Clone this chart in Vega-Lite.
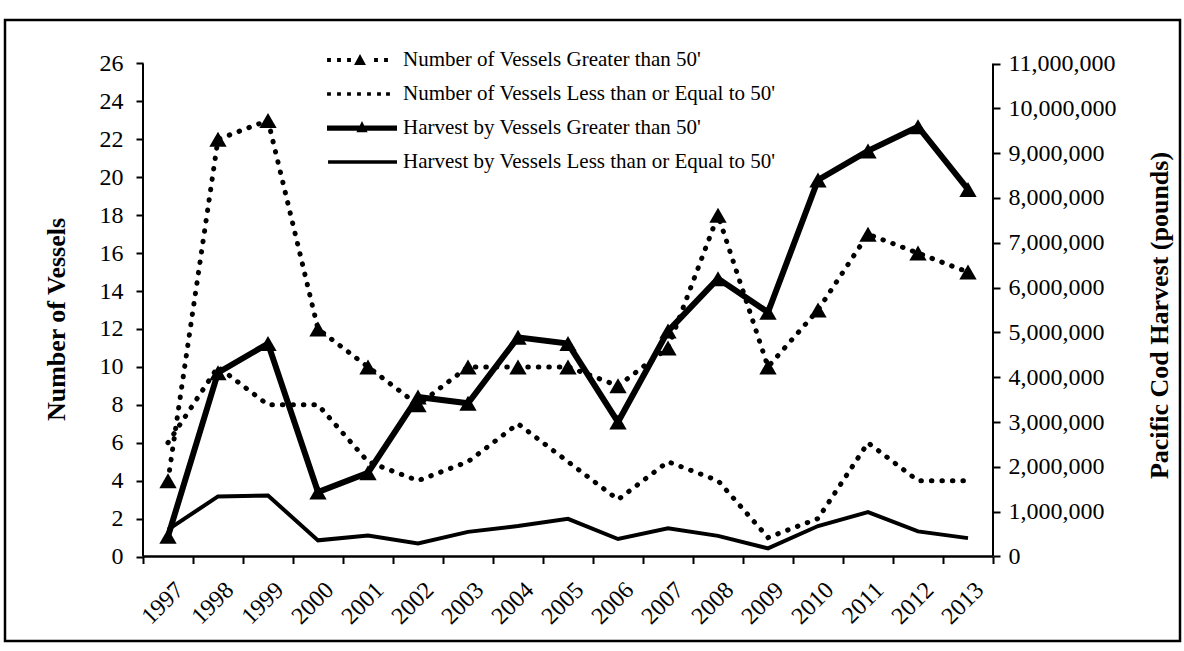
{
  "$schema": "https://vega.github.io/schema/vega-lite/v6.json",
  "width": 1175,
  "height": 621,
  "autosize": {"type": "none"},
  "padding": {"left": 5, "top": 20, "right": 4, "bottom": 10},
  "background": "white",
  "data": {
    "values": [
      {"year": 1997, "vgt": 4, "vle": 6, "hgt": 450000, "hle": 600000},
      {"year": 1998, "vgt": 22, "vle": 10, "hgt": 4100000, "hle": 1340000},
      {"year": 1999, "vgt": 23, "vle": 8, "hgt": 4750000, "hle": 1360000},
      {"year": 2000, "vgt": 12, "vle": 8, "hgt": 1440000, "hle": 360000},
      {"year": 2001, "vgt": 10, "vle": 5, "hgt": 1870000, "hle": 470000},
      {"year": 2002, "vgt": 8, "vle": 4, "hgt": 3560000, "hle": 290000},
      {"year": 2003, "vgt": 10, "vle": 5, "hgt": 3420000, "hle": 550000},
      {"year": 2004, "vgt": 10, "vle": 7, "hgt": 4890000, "hle": 680000},
      {"year": 2005, "vgt": 10, "vle": 5, "hgt": 4750000, "hle": 840000},
      {"year": 2006, "vgt": 9, "vle": 3, "hgt": 3000000, "hle": 390000},
      {"year": 2007, "vgt": 11, "vle": 5, "hgt": 5030000, "hle": 630000},
      {"year": 2008, "vgt": 18, "vle": 4, "hgt": 6200000, "hle": 460000},
      {"year": 2009, "vgt": 10, "vle": 1, "hgt": 5450000, "hle": 180000},
      {"year": 2010, "vgt": 13, "vle": 2, "hgt": 8400000, "hle": 680000},
      {"year": 2011, "vgt": 17, "vle": 6, "hgt": 9050000, "hle": 990000},
      {"year": 2012, "vgt": 16, "vle": 4, "hgt": 9590000, "hle": 560000},
      {"year": 2013, "vgt": 15, "vle": 4, "hgt": 8190000, "hle": 410000}
    ]
  },
  "encoding": {
    "x": {
      "field": "year",
      "type": "quantitative",
      "scale": {"domain": [1993.74, 2017.24], "nice": false, "zero": false},
      "axis": {
        "title": null,
        "offset": -84.5,
        "domain": false,
        "values": [1996.5, 1997.5, 1998.5, 1999.5, 2000.5, 2001.5, 2002.5, 2003.5, 2004.5, 2005.5, 2006.5, 2007.5, 2008.5, 2009.5, 2010.5, 2011.5, 2012.5, 2013.5],
        "labelExpr": "datum.value < 2013 ? format(datum.value + 0.5, 'd') : ''",
        "labelOverlap": false,
        "labelAngle": -45,
        "labelFont": "Liberation Serif",
        "labelFontSize": 24,
        "labelColor": "black",
        "labelPadding": 14,
        "labelOffset": 28,
        "tickSize": 7,
        "tickWidth": 2,
        "tickColor": "black",
        "grid": false
      }
    }
  },
  "layer": [
    {
      "encoding": {
        "y": {
          "field": "vle",
          "type": "quantitative",
          "title": "Number of Vessels",
          "scale": {"domain": [-4.456, 28.294], "nice": false, "zero": false},
          "axis": {
            "orient": "left",
            "offset": -138,
            "domain": false,
            "values": [0, 2, 4, 6, 8, 10, 12, 14, 16, 18, 20, 22, 24, 26],
            "labelOverlap": false,
            "grid": false,
            "tickColor": "black",
            "tickWidth": 2,
            "tickSize": 7,
            "labelPadding": 13,
            "labelFont": "Liberation Serif",
            "labelFontSize": 24,
            "labelColor": "black",
            "title": "Number of Vessels",
            "titleFont": "Liberation Serif",
            "titleFontSize": 26,
            "titleFontWeight": "bold",
            "titleColor": "black",
            "titleAngle": -90,
            "titleAlign": "center",
            "titleBaseline": "middle",
            "titleX": -87,
            "titleY": 299
          }
        }
      },
      "layer": [
        {
          "mark": {"type": "line", "color": "black", "strokeWidth": 5, "strokeDash": [0.5, 10], "strokeCap": "round"},
          "encoding": {}
        },
        {
          "mark": {"type": "line", "color": "black", "strokeWidth": 5, "strokeDash": [0.5, 10], "strokeCap": "round"},
          "encoding": {"y": {"field": "vgt", "type": "quantitative", "title": "Number of Vessels"}}
        },
        {
          "mark": {"type": "point", "shape": "triangle-up", "filled": true, "color": "black", "opacity": 1, "size": 300, "strokeWidth": 0},
          "encoding": {"y": {"field": "vgt", "type": "quantitative", "title": "Number of Vessels"}}
        }
      ]
    },
    {
      "encoding": {
        "y": {
          "field": "hle",
          "type": "quantitative",
          "title": "Pacific Cod Harvest (pounds)",
          "scale": {"domain": [-1885400, 11970590], "nice": false, "zero": false},
          "axis": {
            "orient": "right",
            "offset": -187,
            "domain": false,
            "values": [0, 1000000, 2000000, 3000000, 4000000, 5000000, 6000000, 7000000, 8000000, 9000000, 10000000, 11000000],
            "labelOverlap": false,
            "format": ",d",
            "grid": false,
            "tickColor": "black",
            "tickWidth": 2,
            "tickSize": 7,
            "labelPadding": 8,
            "labelFont": "Liberation Serif",
            "labelFontSize": 24,
            "labelColor": "black",
            "title": "Pacific Cod Harvest (pounds)",
            "titleFont": "Liberation Serif",
            "titleFontSize": 26,
            "titleFontWeight": "bold",
            "titleColor": "black",
            "titleAngle": -90,
            "titleAlign": "center",
            "titleBaseline": "middle",
            "titleX": 166,
            "titleY": 295
          }
        }
      },
      "layer": [
        {
          "mark": {"type": "line", "color": "black", "strokeWidth": 4},
          "encoding": {}
        },
        {
          "mark": {"type": "line", "color": "black", "strokeWidth": 6},
          "encoding": {"y": {"field": "hgt", "type": "quantitative", "title": "Pacific Cod Harvest (pounds)"}}
        },
        {
          "mark": {"type": "point", "shape": "triangle-up", "filled": true, "color": "black", "opacity": 1, "size": 300, "strokeWidth": 0},
          "encoding": {"y": {"field": "hgt", "type": "quantitative", "title": "Pacific Cod Harvest (pounds)"}}
        }
      ]
    },
    {
      "transform": [{"filter": "datum.year == 1997"}],
      "mark": {"type": "rule", "color": "black", "strokeWidth": 2},
      "encoding": {
        "x": {"datum": 1996.5, "type": "quantitative"},
        "y": {"datum": 0, "type": "quantitative", "scale": {"domain": [-4.456, 28.294], "nice": false, "zero": false}, "axis": null},
        "y2": {"datum": 26}
      }
    },
    {
      "transform": [{"filter": "datum.year == 1997"}],
      "mark": {"type": "rule", "color": "black", "strokeWidth": 2},
      "encoding": {
        "x": {"datum": 2013.5, "type": "quantitative"},
        "y": {"datum": 0, "type": "quantitative", "scale": {"domain": [-4.456, 28.294], "nice": false, "zero": false}, "axis": null},
        "y2": {"datum": 26}
      }
    },
    {
      "transform": [{"filter": "datum.year == 1997"}],
      "mark": {"type": "rule", "color": "black", "strokeWidth": 2.5},
      "encoding": {
        "x": {"datum": 1996.5, "type": "quantitative"},
        "x2": {"datum": 2013.5},
        "y": {"datum": 0, "type": "quantitative", "scale": {"domain": [-4.456, 28.294], "nice": false, "zero": false}, "axis": null}
      }
    },
    {
      "transform": [{"filter": "false"}],
      "mark": {"type": "point", "filled": true, "color": "black", "opacity": 1, "strokeWidth": 0},
      "encoding": {
        "shape": {
          "field": "series",
          "type": "nominal",
          "scale": {
            "domain": [
              "Number of Vessels Greater than 50'",
              "Number of Vessels Less than or Equal to 50'",
              "Harvest by Vessels Greater than 50'",
              "Harvest by Vessels Less than or Equal to 50'"
            ],
            "range": [
              "M-0.998,-0.055L-0.888,-0.055L-0.888,0.055L-0.998,0.055ZM-0.712,-0.055L-0.602,-0.055L-0.602,0.055L-0.712,0.055ZM-0.426,-0.055L-0.316,-0.055L-0.316,0.055L-0.426,0.055ZM-0.227,0.14L-0.057,-0.17L0.113,0.14ZM0.345,-0.055L0.455,-0.055L0.455,0.055L0.345,0.055ZM0.631,-0.055L0.741,-0.055L0.741,0.055L0.631,0.055Z",
              "M-0.998,-0.05L-0.888,-0.05L-0.888,0.05L-0.998,0.05ZM-0.712,-0.05L-0.602,-0.05L-0.602,0.05L-0.712,0.05ZM-0.426,-0.05L-0.316,-0.05L-0.316,0.05L-0.426,0.05ZM-0.141,-0.05L-0.031,-0.05L-0.031,0.05L-0.141,0.05ZM0.145,-0.05L0.255,-0.05L0.255,0.05L0.145,0.05ZM0.431,-0.05L0.541,-0.05L0.541,0.05L0.431,0.05ZM0.688,-0.05L0.798,-0.05L0.798,0.05L0.688,0.05Z",
              "M-1,-0.075L1,-0.075L1,0.075L-1,0.075ZM-0.16,0.12L0,-0.2L0.16,0.12Z",
              "M-0.97,-0.05L1,-0.05L1,0.05L-0.97,0.05Z"
            ]
          },
          "legend": {
            "orient": "none",
            "legendX": 322,
            "legendY": 23,
            "title": null,
            "padding": 0,
            "offset": 0,
            "labelFont": "Liberation Serif",
            "labelFontSize": 21,
            "labelColor": "black",
            "labelLimit": 700,
            "labelOffset": 6,
            "clipHeight": 34,
            "rowPadding": 0,
            "symbolSize": 4900,
            "symbolFillColor": "black",
            "symbolStrokeWidth": 0,
            "symbolOpacity": 1
          }
        }
      }
    }
  ],
  "resolve": {"scale": {"y": "independent"}},
  "config": {
    "font": "Liberation Serif",
    "view": {"stroke": "black", "strokeWidth": 2.5}
  }
}
